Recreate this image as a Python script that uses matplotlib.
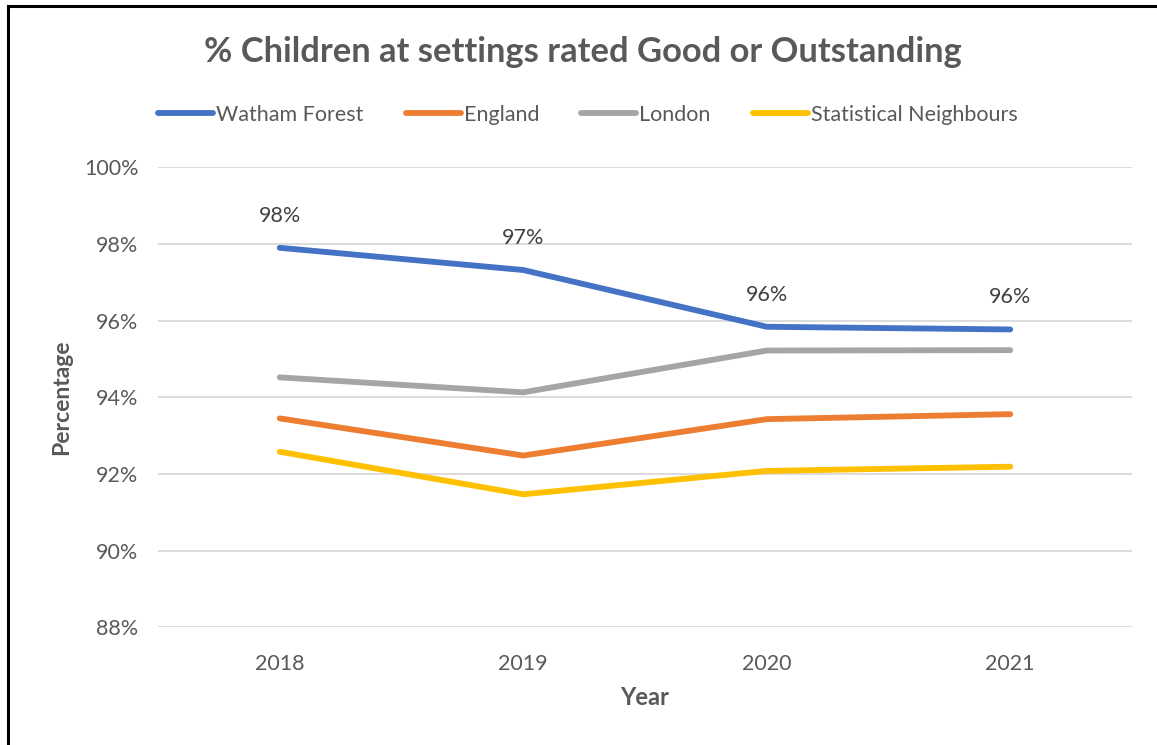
import matplotlib
matplotlib.use("Agg")
import matplotlib.pyplot as plt
from matplotlib.lines import Line2D
from matplotlib.ticker import FuncFormatter

plt.rcParams['font.family'] = ['Lato', 'DejaVu Sans']

years = ["2018", "2019", "2020", "2021"]
watham_forest = [97.90, 97.32, 95.84, 95.77]
england = [93.45, 92.48, 93.43, 93.56]
london = [94.52, 94.13, 95.22, 95.23]
stat_neighbours = [92.58, 91.47, 92.08, 92.19]

series_names = ["Watham Forest", "England", "London", "Statistical Neighbours"]
series_colors = ["#4472C4", "#ED7D31", "#A5A5A5", "#FFC000"]

W, H = 1157, 745
fig = plt.figure(figsize=(W / 100, H / 100), dpi=100)
ax = fig.add_axes([158 / W, 1 - 627.3 / H, (1132 - 158) / W, (627.3 - 167.3) / H])

x = list(range(len(years)))
for vals, name, col in zip([watham_forest, england, london, stat_neighbours],
                           series_names, series_colors):
    ax.plot(x, vals, color=col, lw=4.2, solid_capstyle='round',
            solid_joinstyle='round', label=name, zorder=3)

# data labels on the Watham Forest line
for xi, v in zip(x, watham_forest):
    ax.annotate(f"{v:.0f}%", (xi, v), xytext=(0, 16), textcoords='offset points',
                ha='center', va='bottom', fontsize=15.5, color='#404040')

ax.set_xlim(-0.5, len(years) - 0.5)
ax.set_ylim(88, 100)
ax.set_yticks(range(88, 101, 2))
ax.yaxis.set_major_formatter(FuncFormatter(lambda v, p: f"{v:.0f}%"))
ax.set_xticks(x)
ax.set_xticklabels(years)
ax.grid(axis='y', color='#D9D9D9', lw=1.3, zorder=0)
for s in ax.spines.values():
    s.set_visible(False)
ax.tick_params(length=0, labelsize=15.5, labelcolor='#595959')
ax.tick_params(axis='y', pad=14)
ax.tick_params(axis='x', pad=19)

ax.set_xlabel("Year", fontsize=17, fontweight='bold', color='#595959')
ax.set_ylabel("Percentage", fontsize=16.5, fontweight='bold', color='#595959')
ax.xaxis.set_label_coords(0.5, -0.152)
ax.yaxis.set_label_coords(-0.0986, 0.5)
ax.xaxis.label.set_va('center')
ax.yaxis.label.set_va('center')

fig.text(583 / W, 1 - 52 / H, "% Children at settings rated Good or Outstanding",
         ha='center', va='center', fontsize=24.8, fontweight='bold', color='#595959')

handles = [Line2D([0], [0], color=c, lw=4.2, solid_capstyle='round') for c in series_colors]
fig.legend(handles, series_names, loc='center', bbox_to_anchor=(588 / W, 1 - 115 / H),
           ncol=4, frameon=False, fontsize=15.5, labelcolor='#595959',
           handlelength=2.55, handletextpad=0.15, columnspacing=1.95)

# outer frame (top and left edges)
fig.add_artist(Line2D([8 / W, 1], [1 - 6 / H, 1 - 6 / H], color='black', lw=2.2,
                      transform=fig.transFigure))
fig.add_artist(Line2D([8 / W, 8 / W], [0, 1 - 6 / H], color='black', lw=2.2,
                      transform=fig.transFigure))

fig.savefig("out.png", dpi=100, facecolor='white')
